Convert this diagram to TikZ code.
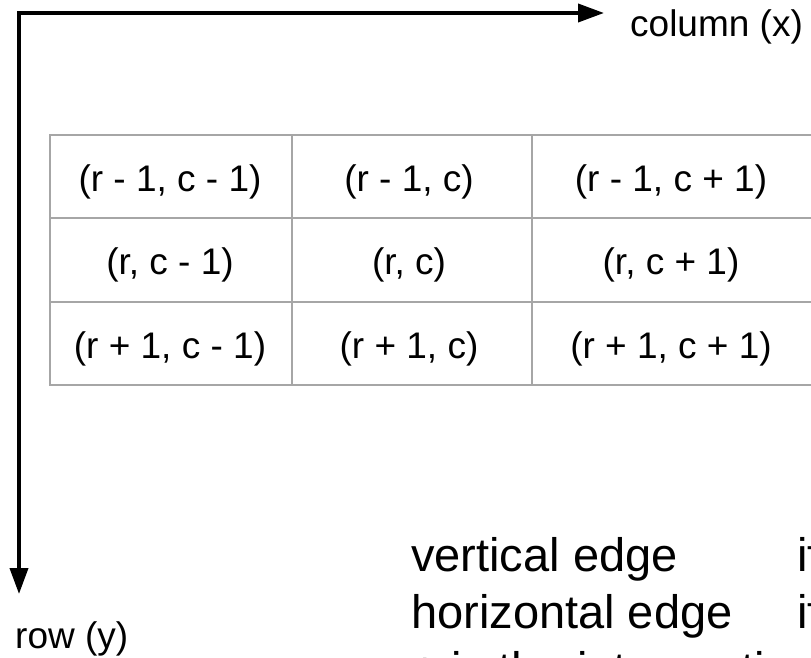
\documentclass[tikz,border=0pt]{standalone}
\usepackage{fontspec}
\setmainfont{Liberation Sans}
\usetikzlibrary{arrows.meta}
\tikzset{
  axis/.style={line width=3.8pt, line join=miter, {Triangle[length=26pt,width=18pt]}-{Triangle[length=26pt,width=18pt]}},
  cell/.style={draw=gray!70, line width=1.8pt, inner sep=0pt},
  celltext/.style={inner sep=0pt, anchor=base, font=\fontsize{37}{42}\selectfont},
  axlabel/.style={inner sep=0pt, anchor=base west, font=\fontsize{37}{42}\selectfont},
  bigtext/.style={inner sep=0pt, anchor=base west, font=\fontsize{47}{56}\selectfont}
}
\begin{document}
\begin{tikzpicture}[x=1pt,y=-1pt]
\useasboundingbox (0,0) rectangle (811,658);
\clip (0,0) rectangle (811,658);
% axes
\coordinate (o) at (19,13);
\coordinate (xend) at (604,13);
\coordinate (yend) at (19,594);
\draw[axis] (yend) -- (o) -- (xend);
\node[axlabel] (colx) at (630,37) {column (x)};
\node[axlabel] (rowy) at (15,648.5) {row (y)};
% table cells
\node[cell, minimum width=242pt, minimum height=83pt] (c11) at (171,176.5) {};
\node[cell, minimum width=240pt, minimum height=83pt] (c12) at (412,176.5) {};
\node[cell, minimum width=282pt, minimum height=83pt] (c13) at (673,176.5) {};
\node[cell, minimum width=242pt, minimum height=84pt] (c21) at (171,260) {};
\node[cell, minimum width=240pt, minimum height=84pt] (c22) at (412,260) {};
\node[cell, minimum width=282pt, minimum height=84pt] (c23) at (673,260) {};
\node[cell, minimum width=242pt, minimum height=83pt] (c31) at (171,343.5) {};
\node[cell, minimum width=240pt, minimum height=83pt] (c32) at (412,343.5) {};
\node[cell, minimum width=282pt, minimum height=83pt] (c33) at (673,343.5) {};
% cell texts
\node[celltext] (t11) at (170,191) {(r - 1, c - 1)};
\node[celltext] (t12) at (409,191) {(r - 1, c)};
\node[celltext] (t13) at (671,191) {(r - 1, c + 1)};
\node[celltext] (t21) at (170,274.5) {(r, c - 1)};
\node[celltext] (t22) at (409,274.5) {(r, c)};
\node[celltext] (t23) at (671,274.5) {(r, c + 1)};
\node[celltext] (t31) at (170,358) {(r + 1, c - 1)};
\node[celltext] (t32) at (409,358) {(r + 1, c)};
\node[celltext] (t33) at (671,358) {(r + 1, c + 1)};
% bottom text
\node[bigtext] (b1) at (411,571) {vertical edge};
\node[bigtext] (b2) at (411,628) {horizontal edge};
\node[bigtext] (b3) at (411,685) {+ is the intersection};
\node[bigtext] (i1) at (797,571) {if};
\node[bigtext] (i2) at (797,628) {if};
\end{tikzpicture}
\end{document}
